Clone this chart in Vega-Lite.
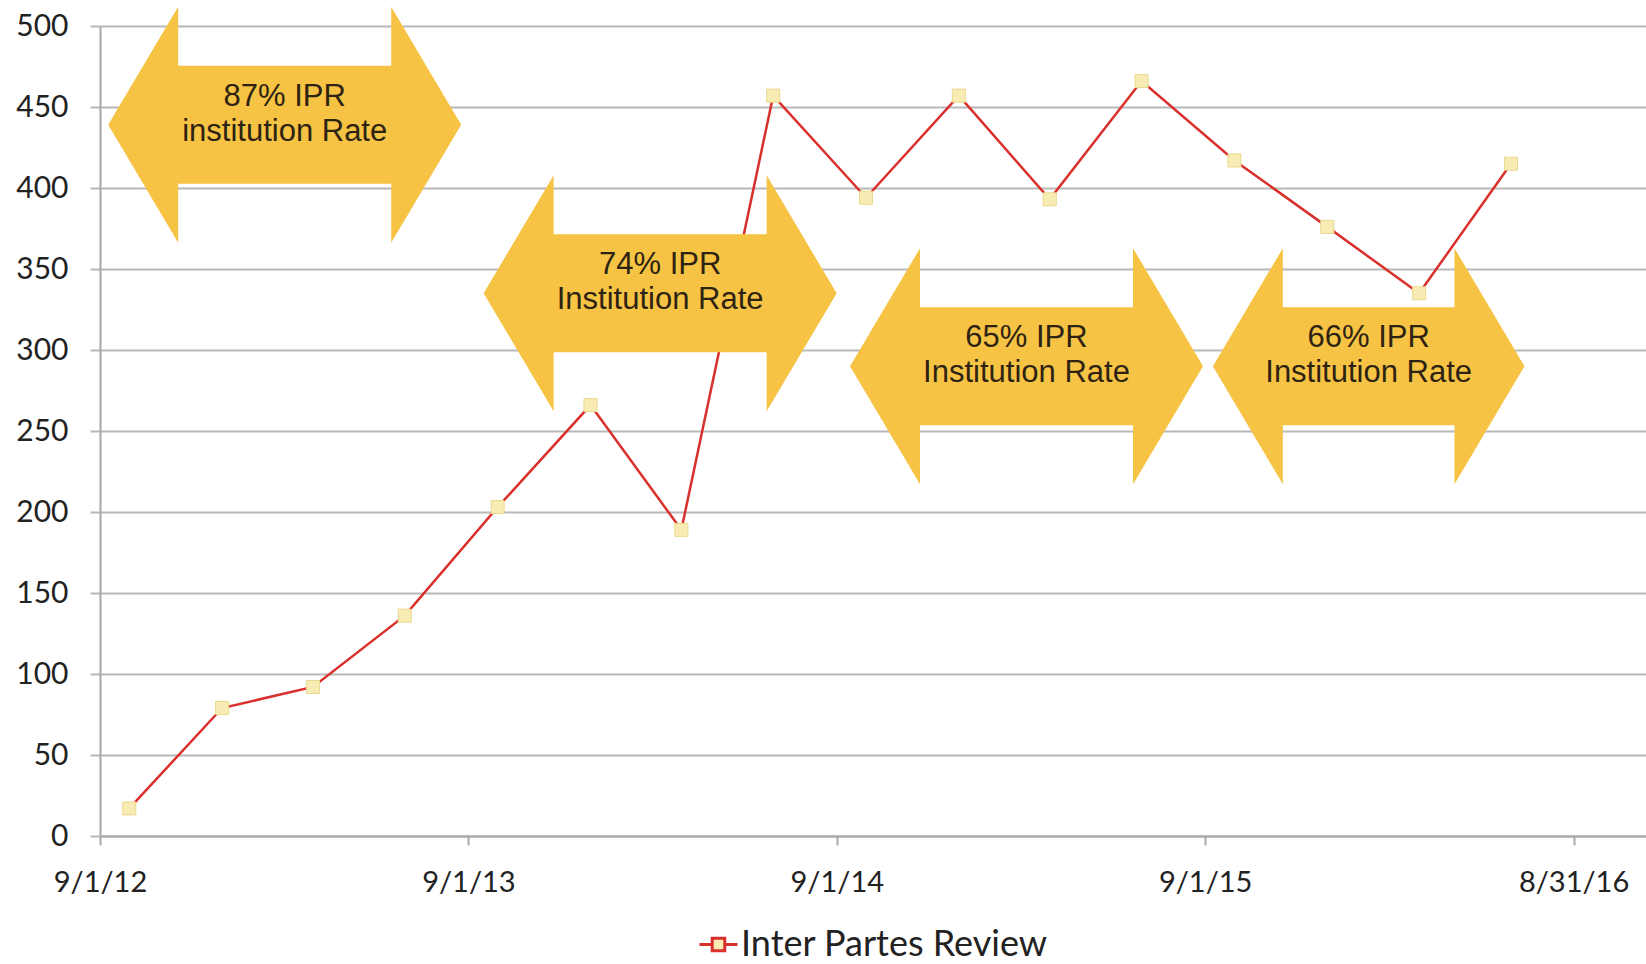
{
  "$schema": "https://vega.github.io/schema/vega-lite/v6.json",
  "width": 1546,
  "height": 810,
  "autosize": "none",
  "padding": {"left": 100, "top": 26, "right": 0, "bottom": 128},
  "background": "white",
  "datasets": {
    "ipr": [
      {"date": "2012-09-30", "count": 17, "series": "Inter Partes Review"},
      {"date": "2012-12-31", "count": 79, "series": "Inter Partes Review"},
      {"date": "2013-03-31", "count": 92, "series": "Inter Partes Review"},
      {"date": "2013-06-30", "count": 136, "series": "Inter Partes Review"},
      {"date": "2013-09-30", "count": 203, "series": "Inter Partes Review"},
      {"date": "2013-12-31", "count": 266, "series": "Inter Partes Review"},
      {"date": "2014-03-31", "count": 189, "series": "Inter Partes Review"},
      {"date": "2014-06-30", "count": 457, "series": "Inter Partes Review"},
      {"date": "2014-09-30", "count": 394, "series": "Inter Partes Review"},
      {"date": "2014-12-31", "count": 457, "series": "Inter Partes Review"},
      {"date": "2015-03-31", "count": 393, "series": "Inter Partes Review"},
      {"date": "2015-06-30", "count": 466, "series": "Inter Partes Review"},
      {"date": "2015-09-30", "count": 417, "series": "Inter Partes Review"},
      {"date": "2015-12-31", "count": 376, "series": "Inter Partes Review"},
      {"date": "2016-03-31", "count": 335, "series": "Inter Partes Review"},
      {"date": "2016-06-30", "count": 415, "series": "Inter Partes Review"}
    ],
    "arrows": [
      {"date": "2013-03-03", "value": 439, "label": "87% IPR\ninstitution Rate"},
      {"date": "2014-03-10", "value": 335, "label": "74% IPR\nInstitution Rate"},
      {"date": "2015-03-08", "value": 290, "label": "65% IPR\nInstitution Rate"},
      {"date": "2016-02-10", "value": 290, "label": "66% IPR\nInstitution Rate"}
    ]
  },
  "encoding": {
    "x": {
      "field": "date",
      "type": "temporal",
      "title": null,
      "scale": {
        "type": "utc",
        "domain": [
          {"year": 2012, "month": 9, "date": 1, "utc": true},
          {"year": 2016, "month": 11, "date": 10, "hours": 19, "utc": true}
        ]
      },
      "axis": {
        "values": [
          {"year": 2012, "month": 9, "date": 1, "utc": true},
          {"year": 2013, "month": 9, "date": 1, "utc": true},
          {"year": 2014, "month": 9, "date": 1, "utc": true},
          {"year": 2015, "month": 9, "date": 1, "utc": true},
          {"year": 2016, "month": 8, "date": 31, "utc": true}
        ],
        "format": "%-m/%-d/%y",
        "grid": false,
        "domainColor": "#a8a8a8",
        "domainWidth": 2,
        "tickColor": "#a8a8a8",
        "tickWidth": 2,
        "tickSize": 9,
        "labelFont": "Lato",
        "labelFontSize": 29,
        "labelColor": "#222222",
        "labelPadding": 23,
        "labelFlush": false,
        "labelOverlap": false
      }
    },
    "y": {
      "field": "count",
      "type": "quantitative",
      "title": null,
      "scale": {"domain": [0, 500], "nice": false, "zero": true},
      "axis": {
        "values": [0, 50, 100, 150, 200, 250, 300, 350, 400, 450, 500],
        "grid": true,
        "gridColor": "#b8b8b8",
        "gridWidth": 2,
        "domainColor": "#a8a8a8",
        "domainWidth": 2,
        "tickColor": "#b8b8b8",
        "tickWidth": 2,
        "tickSize": 10,
        "labelFont": "Lato",
        "labelFontSize": 30,
        "labelColor": "#222222",
        "labelPadding": 22,
        "labelFlush": false,
        "labelOverlap": false
      }
    }
  },
  "layer": [
    {
      "data": {"name": "ipr"},
      "mark": {"type": "line", "strokeWidth": 2.5},
      "encoding": {
        "color": {
          "field": "series",
          "type": "nominal",
          "scale": {"domain": ["Inter Partes Review"], "range": ["#d9302c"]},
          "legend": {
            "orient": "bottom",
            "title": null,
            "offset": 27,
            "symbolType": "M-1,0L-0.33,0M0.33,0L1,0M-0.33,-0.33L0.33,-0.33L0.33,0.33L-0.33,0.33Z",
            "symbolSize": 1444,
            "symbolStrokeWidth": 3,
            "labelFont": "Lato",
            "labelFontSize": 36,
            "labelColor": "#222222",
            "labelOffset": 2,
            "labelLimit": 700,
            "encode": {
              "symbols": {
                "update": {
                  "fill": {"value": "#f8ecb4"},
                  "stroke": {"value": "#d9302c"},
                  "strokeWidth": {"value": 3}
                }
              }
            }
          }
        }
      }
    },
    {
      "data": {"name": "ipr"},
      "mark": {
        "type": "point",
        "shape": "square",
        "filled": true,
        "size": 170,
        "fill": "#f8ecb4",
        "stroke": "#e9d98f",
        "strokeWidth": 1,
        "opacity": 1
      }
    },
    {
      "data": {"name": "arrows"},
      "mark": {
        "type": "point",
        "filled": true,
        "size": 40000,
        "fill": "#f6c344",
        "strokeWidth": 0,
        "opacity": 1
      },
      "encoding": {
        "y": {"field": "value", "type": "quantitative"},
        "shape": {
          "field": "label",
          "type": "nominal",
          "legend": null,
          "scale": {
            "domain": [
              "87% IPR\ninstitution Rate",
              "74% IPR\nInstitution Rate",
              "65% IPR\nInstitution Rate",
              "66% IPR\nInstitution Rate"
            ],
            "range": [
              "M-1.765,0L-1.065,-1.18L-1.065,-0.59L1.065,-0.59L1.065,-1.18L1.765,0L1.065,1.18L1.065,0.59L-1.065,0.59L-1.065,1.18Z",
              "M-1.765,0L-1.065,-1.18L-1.065,-0.59L1.065,-0.59L1.065,-1.18L1.765,0L1.065,1.18L1.065,0.59L-1.065,0.59L-1.065,1.18Z",
              "M-1.765,0L-1.065,-1.18L-1.065,-0.59L1.065,-0.59L1.065,-1.18L1.765,0L1.065,1.18L1.065,0.59L-1.065,0.59L-1.065,1.18Z",
              "M-1.558,0L-0.858,-1.18L-0.858,-0.59L0.858,-0.59L0.858,-1.18L1.558,0L0.858,1.18L0.858,0.59L-0.858,0.59L-0.858,1.18Z"
            ]
          }
        }
      }
    },
    {
      "data": {"name": "arrows"},
      "mark": {
        "type": "text",
        "font": "Liberation Sans",
        "fontSize": 31,
        "lineHeight": 35,
        "lineBreak": "\n",
        "color": "#2e2312",
        "align": "center",
        "baseline": "middle",
        "dy": -28
      },
      "encoding": {
        "y": {"field": "value", "type": "quantitative"},
        "text": {"field": "label", "type": "nominal"}
      }
    }
  ],
  "config": {
    "view": {"stroke": null},
    "legend": {"layout": {"bottom": {"anchor": "middle"}}}
  }
}
